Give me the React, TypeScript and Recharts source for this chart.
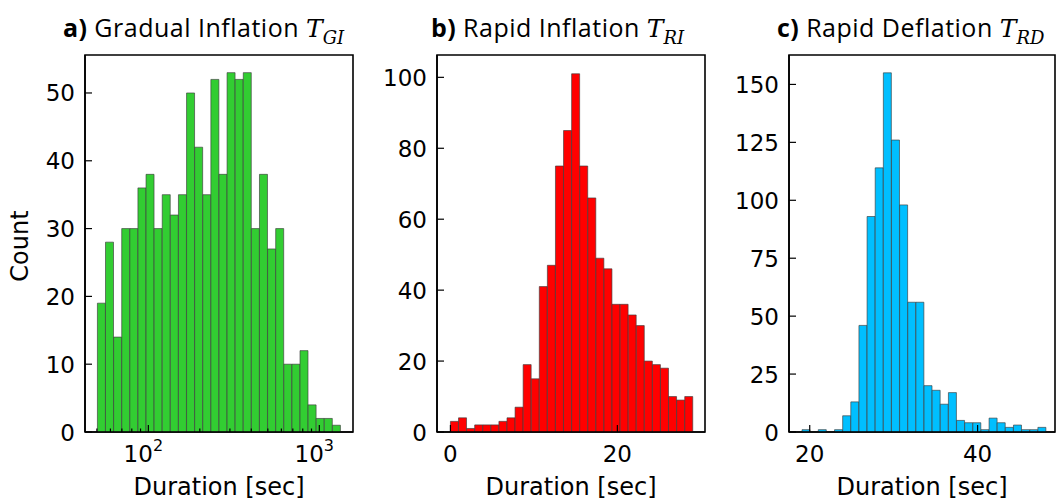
import React from 'react';
import { ComposedChart, Bar, XAxis, YAxis, ReferenceArea } from 'recharts';

// counts per bin
const gradualCounts = [19, 28, 14, 30, 30, 36, 38, 30, 35, 32, 35, 50, 42, 35, 52, 38, 53, 52, 53, 30, 38, 27, 30, 10, 10, 12, 4, 2, 2, 1];
const gradualLogEdges = [1.702, 3.124]; // log10 of first / last bin edge
const gradualXTicks = [50, 60, 70, 80, 90, 100, 200, 300, 400, 500, 600, 700, 800, 900, 1000];
const gradualMajor = [100, 1000];
const gradualYTicks = [0, 10, 20, 30, 40, 50];

const riCounts = [3, 4, 1, 2, 2, 2, 3, 4, 7, 19, 15, 41, 47, 75, 85, 101, 75, 66, 49, 46, 36, 36, 33, 30, 20, 19, 18, 10, 9, 10];
const riEdges = [0, 29.04];
const riXTicks = [0, 20];
const riYTicks = [0, 20, 40, 60, 80, 100];

const rdCounts = [1, 0, 1, 0, 1, 7, 13, 46, 93, 114, 155, 126, 98, 56, 56, 20, 18, 12, 17, 5, 4, 4, 1, 6, 4, 2, 3, 1, 1, 2];
const rdEdges = [19.08, 48.15];
const rdXTicks = [20, 40];
const rdYTicks = [0, 25, 50, 75, 100, 125, 150];

const TICK_FONT = 'DejaVu Sans, sans-serif';
const TITLE_FONT = '"Open Sans", "Noto Sans", sans-serif';
const MATH_FONT = 'DejaVu Serif, serif';

// like np.histogram: equal-width bins between the two edges
const linearBins = (counts: number[], edges: number[]) => {
  const w = (edges[1] - edges[0]) / counts.length;
  return counts.map((c, i) => ({ x: edges[0] + w * (i + 0.5), count: c }));
};
const logBins = (counts: number[], logEdges: number[]) => {
  const w = (logEdges[1] - logEdges[0]) / counts.length;
  return counts.map((c, i) => ({ x: Math.pow(10, logEdges[0] + w * (i + 0.5)), count: c }));
};

const XTick = (props: any) => {
  const { x, y, payload, major, log } = props;
  const v = payload.value;
  const isMajor = major.includes(v);
  let label: React.ReactNode = null;
  if (isMajor) {
    if (log) {
      const exp = String(Math.round(Math.log10(v)));
      label = (
        <text x={x - 5} y={y + 30} textAnchor="middle" fontFamily={TICK_FONT} fontSize={23} fill="#000">
          10
          <tspan dy={-11} fontSize={16}>{exp}</tspan>
        </text>
      );
    } else {
      label = (
        <text x={x} y={y + 30} textAnchor="middle" fontFamily={TICK_FONT} fontSize={23} fill="#000">
          {v}
        </text>
      );
    }
  }
  return (
    <g>
      <line x1={x} x2={x} y1={y} y2={y - (isMajor ? 7 : 3.5)} stroke="#000" strokeWidth={1.2} />
      {label}
    </g>
  );
};

const YTick = (props: any) => {
  const { x, y, payload } = props;
  return (
    <g>
      <line x1={x} x2={x + 7} y1={y} y2={y} stroke="#000" strokeWidth={1.2} />
      <text x={x - 10} y={y + 8.5} textAnchor="end" fontFamily={TICK_FONT} fontSize={23} fill="#000">
        {payload.value}
      </text>
    </g>
  );
};

interface PanelProps {
  data: { x: number; count: number }[];
  left: number;
  width: number;
  yWidth: number;
  rightMargin: number;
  xDomain: number[];
  yMax: number;
  xTicks: number[];
  major: number[];
  yTicks: number[];
  color: string;
  log?: boolean;
}

const Panel = ({ data, left, width, yWidth, rightMargin, xDomain, yMax, xTicks, major, yTicks, color, log }: PanelProps) => (
  <div style={{ position: 'absolute', left, top: 0 }}>
    <ComposedChart
      width={width}
      height={502}
      data={data}
      margin={{ top: 55, right: rightMargin, bottom: 0, left: 0 }}
      barCategoryGap={0}
      barGap={0}
    >
      <XAxis
        dataKey="x"
        type="number"
        scale={log ? 'log' : 'linear'}
        domain={xDomain}
        allowDataOverflow
        ticks={xTicks}
        interval={0}
        height={70}
        tickSize={0}
        tickMargin={0}
        axisLine={{ stroke: '#000', strokeWidth: 1.6 }}
        tick={<XTick major={major} log={log} />}
      />
      <YAxis
        type="number"
        domain={[0, yMax]}
        allowDataOverflow
        ticks={yTicks}
        interval={0}
        width={yWidth}
        tickSize={0}
        tickMargin={0}
        axisLine={{ stroke: '#000', strokeWidth: 1.6 }}
        tick={<YTick />}
      />
      <Bar dataKey="count" fill={color} stroke="#3a3a3a" strokeWidth={0.8} strokeOpacity={0.8} isAnimationActive={false} />
      {/* axes frame */}
      <ReferenceArea x1={xDomain[0]} x2={xDomain[1]} y1={0} y2={yMax} fill="none" fillOpacity={0} stroke="#000" strokeWidth={1.6} strokeOpacity={1} />
    </ComposedChart>
  </div>
);

const Title = ({ x, letter, text, sub }: { x: number; letter: string; text: string; sub: string }) => (
  <text x={x} y={37} fontFamily={TITLE_FONT} fontSize={25} fill="#000">
    <tspan fontWeight="bold" letterSpacing={0.4}>{letter}</tspan>
    <tspan letterSpacing={0.5}>{' ' + text + ' '}</tspan>
    <tspan fontFamily={MATH_FONT} fontStyle="italic" fontSize={25}>T</tspan>
    <tspan fontFamily={MATH_FONT} fontStyle="italic" fontSize={18} dy={7}>{sub}</tspan>
  </text>
);

export default function App() {
  return (
    <div style={{ position: 'absolute', left: 0, top: 0, width: 1056, height: 502, overflow: 'hidden', background: '#fff' }}>
      <Panel
        data={logBins(gradualCounts, gradualLogEdges)}
        left={0}
        width={370}
        yWidth={85}
        rightMargin={17}
        xDomain={[42.6, 1574]}
        yMax={55.6}
        xTicks={gradualXTicks}
        major={gradualMajor}
        yTicks={gradualYTicks}
        color="#32CD32"
        log
      />
      <Panel
        data={linearBins(riCounts, riEdges)}
        left={370}
        width={350}
        yWidth={67}
        rightMargin={15}
        xDomain={[-1.61, 30.5]}
        yMax={106.3}
        xTicks={riXTicks}
        major={riXTicks}
        yTicks={riYTicks}
        color="#FF0000"
      />
      <Panel
        data={linearBins(rdCounts, rdEdges)}
        left={720}
        width={336}
        yWidth={69}
        rightMargin={1}
        xDomain={[17.53, 49.22]}
        yMax={162.7}
        xTicks={rdXTicks}
        major={rdXTicks}
        yTicks={rdYTicks}
        color="#00BFFF"
      />
      <svg width={1056} height={502} style={{ position: 'absolute', left: 0, top: 0, pointerEvents: 'none' }}>
        <Title x={63} letter="a)" text="Gradual Inflation" sub="GI" />
        <Title x={431} letter="b)" text="Rapid Inflation" sub="RI" />
        <Title x={777} letter="c)" text="Rapid Deflation" sub="RD" />
        <text x={28} y={246} transform="rotate(-90 28 246)" textAnchor="middle" fontFamily={TICK_FONT} fontSize={24} fill="#000">
          Count
        </text>
        <text x={219} y={495} textAnchor="middle" fontFamily={TICK_FONT} fontSize={24} fill="#000">Duration [sec]</text>
        <text x={571} y={495} textAnchor="middle" fontFamily={TICK_FONT} fontSize={24} fill="#000">Duration [sec]</text>
        <text x={922} y={495} textAnchor="middle" fontFamily={TICK_FONT} fontSize={24} fill="#000">Duration [sec]</text>
      </svg>
    </div>
  );
}
